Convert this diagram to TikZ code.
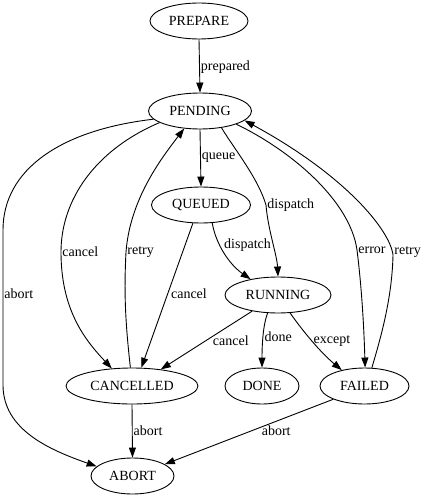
\documentclass[tikz,border=0pt]{standalone}
\usepackage{fontspec}
\setmainfont{Liberation Serif}
\usetikzlibrary{arrows.meta,shapes.geometric}

\tikzset{
  state/.style={draw, ellipse, line width=0.9pt, inner sep=0pt, minimum height=36pt, font=\fontsize{14}{17}\selectfont},
  trans/.style={draw, line width=0.9pt, -{Triangle[length=10pt,width=7pt]}},
  lbl/.style={font=\fontsize{14}{17}\selectfont, inner sep=1pt},
}

\begin{document}
\begin{tikzpicture}[x=1pt, y=-1pt]
  \useasboundingbox (0,0) rectangle (425,500);

  \node[state, minimum width=98pt]  (prep)   at (199,21)  {PREPARE};
  \node[state, minimum width=103pt] (pend)   at (200,111) {PENDING};
  \node[state, minimum width=99pt]  (queued) at (201,205) {QUEUED};
  \node[state, minimum width=106pt] (run)    at (278,295) {RUNNING};
  \node[state, minimum width=132pt] (canc)   at (132,386) {CANCELLED};
  \node[state, minimum width=74pt]  (done)   at (262,386) {DONE};
  \node[state, minimum width=89pt]  (fail)   at (364.5,386) {FAILED};
  \node[state, minimum width=83pt]  (abort)  at (132.5,476) {ABORT};

  \draw[trans] (prep.south) -- (pend.north) node[lbl, pos=.52, right] {prepared};
  \draw[trans] (pend.south) -- (queued.north) node[lbl, midway, right] {queue};
  \draw[trans] (pend.-38) .. controls (235,150) and (258,178) .. (266,205) node[lbl, right] {dispatch}
    .. controls (268,230) and (277,255) .. (run.north);
  \draw[trans] (queued.-58) .. controls (216,245) and (230,265) .. (run.150) node[lbl, pos=.35, right=3pt] {dispatch};
  \draw[trans] (queued.-114) -- (canc.63) node[lbl, pos=.49, right=2pt] {cancel};
  \draw[trans] (pend.196) .. controls (95,150) and (61,200) .. (61,252) node[lbl, right] {cancel}
    .. controls (61,310) and (85,340) .. (canc.139);
  \draw[trans] (canc.95) .. controls (125,320) and (124,290) .. (126,252) node[lbl, right] {retry}
    .. controls (130,200) and (160,160) .. (pend.228);
  \draw[trans] (pend.190) .. controls (60,130) and (3,170) .. (3,230) -- (3,385) node[lbl, pos=.41, right] {abort}
    .. controls (3,430) and (50,450) .. (abort.165);
  \draw[trans] (pend.-20) .. controls (290,150) and (350,200) .. (357,250) node[lbl, right] {error}
    .. controls (362,290) and (364,330) .. (fail.88);
  \draw[trans] (fail.68) .. controls (380,340) and (392,300) .. (393,255) node[lbl, right, yshift=3pt] {retry}
    .. controls (390,230) and (345,175) .. (pend.-12);
  \draw[trans] (run.212) -- (canc.30) node[lbl, midway, right=5pt] {cancel};
  \draw[trans] (run.-120) .. controls (263,325) and (262,345) .. (done.north) node[lbl, midway, right] {done};
  \draw[trans] (run.-56) .. controls (302,330) and (320,352) .. (fail.145) node[lbl, midway, right] {except};
  \draw[trans] (canc.south) -- (abort.north) node[lbl, midway, right] {abort};
  \draw[trans] (fail.203) -- (abort.20) node[lbl, pos=.48, right=8pt] {abort};
\end{tikzpicture}
\end{document}
